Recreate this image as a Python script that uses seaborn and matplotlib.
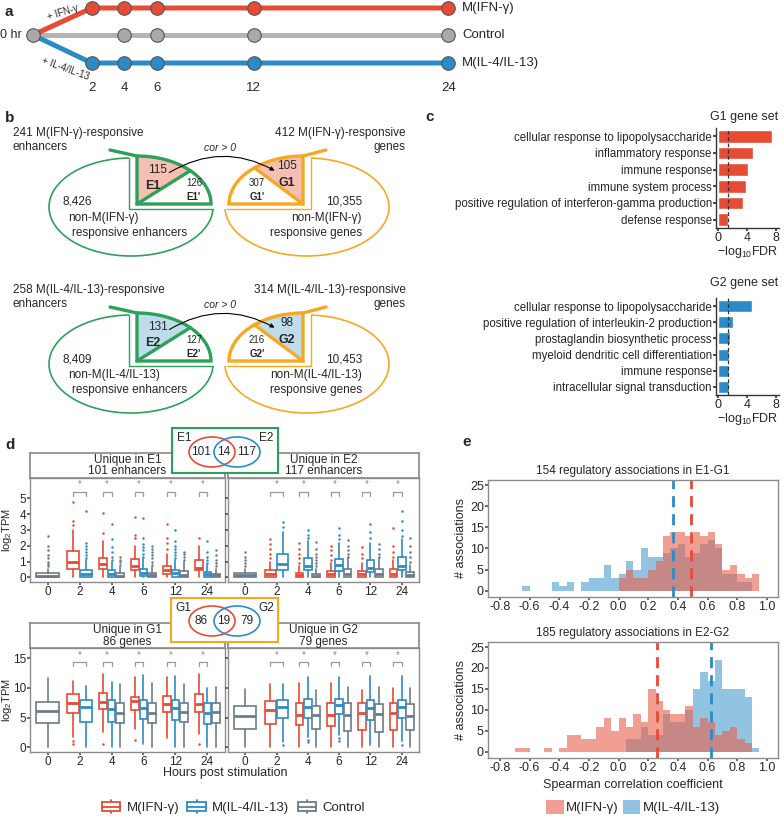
import numpy as np
import pandas as pd
import seaborn as sns
import matplotlib
matplotlib.use("Agg")
import matplotlib.pyplot as plt
from matplotlib.patches import Ellipse, Rectangle, Polygon, Patch, FancyArrowPatch
from matplotlib.lines import Line2D
from matplotlib.legend_handler import HandlerBase

sns.set_theme(style="white")
plt.rcParams["font.family"] = ["Liberation Sans", "DejaVu Sans"]
plt.rcParams["mathtext.fontset"] = "custom"
plt.rcParams["mathtext.rm"] = "Liberation Sans"
plt.rcParams["mathtext.it"] = "Liberation Sans:italic"

W, H = 784, 818

# ---------------- data ----------------
# a: time course
hours = [2, 4, 6, 12, 24]
control_hours = [4, 6, 12, 24]
a_groups = ["M(IFN-γ)", "Control", "M(IL-4/IL-13)"]
a_treat = ["+ IFN-γ", "+ IL-4/IL-13"]

# b: enhancer / gene sets
b_cond = ["M(IFN-γ)", "M(IL-4/IL-13)"]
enh_total = [241, 258]
gene_total = [412, 314]
enh_pos = [115, 131]
enh_neg = [126, 127]
gene_pos = [105, 98]
gene_neg = [307, 216]
enh_rest = ["8,426", "8,409"]
gene_rest = ["10,355", "10,453"]
enh_names = ["E1", "E2"]
gene_names = ["G1", "G2"]

# c: GO enrichment
g1_terms = ["cellular response to lipopolysaccharide", "inflammatory response",
            "immune response", "immune system process",
            "positive regulation of interferon-gamma production", "defense response"]
g1_fdr = [7.5, 4.9, 4.2, 3.8, 3.4, 1.4]
g2_terms = ["cellular response to lipopolysaccharide",
            "positive regulation of interleukin-2 production",
            "prostaglandin biosynthetic process", "myeloid dendritic cell differentiation",
            "immune response", "intracellular signal transduction"]
g2_fdr = [4.7, 2.1, 1.6, 1.55, 1.55, 1.55]
fdr_cut = 1.3

# d: expression boxplots, (whislo, q1, med, q3, whishi) per time 0,2,4,6,12,24
times = ["0", "2", "4", "6", "12", "24"]
venn_e = [101, 14, 117]
venn_g = [86, 19, 79]

e1_ifn = [None, (0, 0.55, 1.0, 1.65, 3.0), (0, 0.5, 0.87, 1.23, 2.3), (0, 0.49, 0.72, 1.13, 2.0),
          (0, 0.19, 0.45, 0.72, 1.5), (0, 0.45, 0.62, 1.08, 2.0)]
e1_il4 = [None, (0, 0.02, 0.2, 0.45, 1.1), (0, 0.02, 0.2, 0.45, 1.0), (0, 0.06, 0.3, 0.55, 1.2),
          (0, 0.02, 0.25, 0.45, 1.1), (0, 0.02, 0.2, 0.34, 0.8)]
e1_ctl = [(0, 0.02, 0.1, 0.25, 0.55), None, (0, 0, 0.1, 0.28, 0.65), (0, 0.02, 0.15, 0.28, 0.65),
          (0, 0.02, 0.15, 0.4, 0.95), (0, 0.01, 0.12, 0.23, 0.55)]
e1_ifn_out = [[], [3.3, 3.6, 4.8], [2.8, 4.1], [2.5, 2.7, 3.85], [1.8, 2.2, 2.5, 3.4], [2.5]]
e1_il4_out = [[], [1.2, 1.4, 1.6, 1.8, 2.0, 2.2, 4.2], [1.1, 1.3, 1.6, 1.9, 2.4, 3.35],
              [1.3, 1.5, 1.7, 1.9, 2.1, 2.5, 3.75], [1.2, 1.4, 1.6, 1.8, 2.0, 2.3, 3.0],
              [0.9, 1.1, 1.3, 1.6, 2.3]]
e1_ctl_out = [[0.7, 0.85, 1.0, 1.2, 1.4, 1.7, 2.0, 2.6], [], [0.8, 0.95, 1.1, 1.3],
              [0.8, 1.0, 1.2, 1.4, 1.6, 1.8, 2.0], [1.1, 1.3, 1.45, 1.6], [0.7, 0.9, 1.1, 1.4, 1.7]]

e2_ifn = [None, (0, 0.02, 0.22, 0.45, 1.0), (0, 0, 0.12, 0.3, 0.7), (0, 0.02, 0.2, 0.4, 0.9),
          (0, 0.02, 0.2, 0.4, 0.9), (0, 0.02, 0.22, 0.5, 1.1)]
e2_il4 = [None, (0, 0.45, 0.83, 1.5, 2.9), (0, 0.45, 0.7, 1.25, 2.3), (0, 0.4, 0.77, 1.13, 2.2),
          (0, 0.34, 0.6, 1.08, 2.2), (0, 0.45, 0.7, 1.3, 2.4)]
e2_ctl = [(0, 0.02, 0.12, 0.25, 0.55), None, (0, 0, 0.08, 0.23, 0.55), (0, 0.02, 0.22, 0.5, 1.2),
          (0, 0.02, 0.2, 0.53, 1.2), (0, 0.02, 0.15, 0.34, 0.8)]
e2_ifn_out = [[], [1.2, 1.5, 1.8, 2.1, 2.4], [0.9, 1.2, 1.5, 1.8, 2.2], [1.1, 1.4, 1.7, 2.0],
              [1.2, 1.5, 1.9], [1.3, 1.6, 2.0, 3.1]]
e2_il4_out = [[], [3.2, 3.5], [2.5, 2.7, 3.0], [2.4, 2.7, 3.1], [2.5, 2.9, 3.4], [2.6, 3.0, 3.6, 4.2]]
e2_ctl_out = [[0.7, 0.9, 1.1, 1.3, 1.6], [], [0.7, 0.9, 1.1, 1.3, 1.5, 1.8, 2.25],
              [1.3, 1.5, 1.7, 2.0, 2.35], [1.3, 1.5, 1.8, 2.1], [1.0, 1.3, 1.6, 2.0, 2.5]]

g1_ifn = [None, (1.8, 5.7, 7.5, 8.9, 11.2), (2.6, 6.4, 7.6, 9.2, 12.3), (3.0, 6.3, 7.8, 8.5, 11.8),
          (1.5, 6.0, 7.2, 8.6, 11.8), (2.3, 6.0, 7.3, 8.9, 12.3)]
g1_il4 = [None, (0, 4.3, 6.7, 7.9, 10.3), (0, 4.3, 6.4, 8.0, 11.0), (0.6, 4.7, 6.6, 7.9, 12.1),
          (0, 4.6, 6.6, 8.0, 12.0), (0, 3.9, 5.8, 7.5, 10.0)]
g1_ctl = [(0, 4.0, 6.1, 7.6, 11.7), None, (0, 4.1, 5.8, 7.4, 10.6), (0, 4.1, 5.8, 7.4, 10.8),
          (0, 4.2, 5.9, 7.4, 10.6), (0, 4.0, 6.0, 7.5, 10.1)]
g1_ifn_out = [[], [0.6, 1.0], [0.6], [1.3], [], [0.6]]
g1_il4_out = [[], [], [], [], [], []]
g1_ctl_out = [[], [], [], [], [], []]

g2_ifn = [None, (0, 3.9, 6.2, 7.7, 10.6), (0, 3.7, 5.5, 7.5, 10.8), (0, 3.5, 5.4, 7.5, 10.8),
          (0, 2.9, 5.7, 7.4, 9.7), (0, 2.9, 5.7, 7.4, 10.0)]
g2_il4 = [None, (0.8, 4.9, 6.8, 8.0, 10.7), (1.8, 5.0, 6.7, 8.2, 11.9), (2.0, 5.6, 7.1, 8.2, 11.8),
          (0.3, 4.6, 6.6, 8.0, 12.0), (1.0, 4.9, 6.7, 8.0, 12.0)]
g2_ctl = [(0, 3.1, 5.2, 6.9, 9.8), None, (0, 3.0, 5.5, 6.9, 9.7), (0, 2.8, 5.5, 7.4, 10.2),
          (0, 2.6, 5.6, 7.3, 10.1), (0, 2.9, 5.3, 7.3, 10.0)]
g2_ifn_out = [[], [], [], [], [], []]
g2_il4_out = [[], [0.3], [0.8, 1.3], [1.0, 1.5], [], [0.3]]
g2_ctl_out = [[], [], [], [], [], []]

# e: Spearman correlation histograms (bin left edges, width 0.05)
corr_left = [-0.70, -0.65, -0.60, -0.55, -0.50, -0.45, -0.40, -0.35, -0.30, -0.25, -0.20, -0.15,
             -0.10, -0.05, 0.00, 0.05, 0.10, 0.15, 0.20, 0.25, 0.30, 0.35, 0.40, 0.45, 0.50,
             0.55, 0.60, 0.65, 0.70, 0.75, 0.80, 0.85, 0.90, 0.95]
e1g1_ifn = [0, 0, 0, 0, 0, 0, 0, 0, 0, 0, 0, 0, 0, 0, 3, 5, 3, 3, 5, 7, 13, 14, 14, 13, 14,
            13, 14, 11, 5, 6, 4, 3, 4, 0]
e1g1_il4 = [0, 1, 0, 0, 0, 2, 1, 2, 0, 2, 3, 3, 6, 3, 4, 7, 5, 10, 8, 8, 9, 10, 11, 8, 9,
            11, 12, 10, 4, 4, 2, 2, 0, 0]
e2g2_ifn = [1, 1, 0, 0, 1, 0, 1, 4, 4, 3, 3, 6, 8, 5, 8, 6, 9, 7, 15, 12, 10, 9, 9, 11, 6,
            8, 7, 4, 5, 6, 3, 2, 0, 0]
e2g2_il4 = [0, 0, 0, 0, 0, 0, 0, 0, 0, 0, 0, 0, 0, 0, 0, 3, 3, 6, 4, 4, 9, 7, 7, 10, 15,
            19, 17, 22, 15, 15, 15, 13, 1, 0]
e1g1_median = [0.49, 0.37]   # IFN, IL-4
e2g2_median = [0.26, 0.62]

# ---------------- style ----------------
RED = "#E64B35"
BLUE = "#2C8BC6"
GRAY = "#6C7B8B"
GREEN = "#2FA05A"
ORANGE = "#F7A823"
HIST_RED = "#E8604A"
HIST_BLUE = "#4A9ECF"
FRAME = "#8C8C8C"

fig = plt.figure(figsize=(W / 100, H / 100), dpi=100)


def px_axes(x0, y0, x1, y1, **kw):
    return fig.add_axes([x0 / W, 1 - y1 / H, (x1 - x0) / W, (y1 - y0) / H], **kw)


# ---------------- a ----------------
ax_a = px_axes(0, 0, W, 100)
ax_a.set_xlim(-3.67, 44.72)
ax_a.set_ylim(100, 0)
ax_a.axis("off")
row_y = [8, 35, 63]
h0 = -1.64
ax_a.plot([h0, 24], [row_y[1], row_y[1]], color="#B4B4B4", lw=3.6, zorder=1)
ax_a.plot([h0, 2, 24], [row_y[1], row_y[0], row_y[0]], color=RED, lw=3.6, zorder=1)
ax_a.plot([h0, 2, 24], [row_y[1], row_y[2], row_y[2]], color=BLUE, lw=3.6, zorder=1)
ax_a.scatter(hours, [row_y[0]] * len(hours), s=95, color=RED, ec="#555555", lw=0.8, zorder=3)
ax_a.scatter(control_hours, [row_y[1]] * len(control_hours), s=95, color="#A9A9A9", ec="#555555", lw=0.8, zorder=3)
ax_a.scatter(hours, [row_y[2]] * len(hours), s=95, color=BLUE, ec="#555555", lw=0.8, zorder=3)
ax_a.scatter([h0], [row_y[1]], s=95, color="#A9A9A9", ec="#555555", lw=0.8, zorder=3)
for h in hours:
    ax_a.text(h, 88, str(h), ha="center", va="center", fontsize=9.5)
ax_a.text(-3.66, row_y[1], "0 hr", ha="left", va="center", fontsize=9)
for y, g in zip(row_y, a_groups):
    ax_a.text(24.85, y, g, ha="left", va="center", fontsize=9.5)
ax_a.text(0.2, 13, a_treat[0], ha="center", va="center", fontsize=7, rotation=17)
ax_a.text(0.35, 69, a_treat[1], ha="center", va="center", fontsize=7, rotation=-20)

# ---------------- overlay for b and labels ----------------
ov = px_axes(0, 0, W, H)
ov.set_xlim(0, W)
ov.set_ylim(H, 0)
ov.axis("off")
ov.set_zorder(10)
ov.patch.set_alpha(0)


def sector(cx, cy, rx, ry, a0, a1):
    t = np.radians(np.linspace(a0, a1, 40))
    pts = [(cx, cy)] + list(zip(cx + rx * np.cos(t), cy - ry * np.sin(t)))
    return pts


def draw_b_row(k, dy):
    fill = "#F5C0B3" if k == 0 else "#BFDCEB"
    # enhancers (green)
    ov.add_patch(Ellipse((131, 207 + dy), 164, 98, fc="none", ec=GREEN, lw=1.2))
    ov.add_patch(Rectangle((129, 148 + dy), 92, 61, fc="white", ec="none"))
    ov.plot([129, 129, 213], [158 + dy, 209 + dy, 209 + dy], color=GREEN, lw=1.0)
    cx, cy = 137, 204 + dy
    ov.add_patch(Polygon(sector(cx, cy, 74, 48, 44, 90), fc=fill, ec="none"))
    ov.add_patch(Polygon(sector(cx, cy, 74, 48, 0, 90), fc="none", ec=GREEN, lw=2.4, joinstyle="miter"))
    ov.plot([cx, cx + 74 * np.cos(np.radians(44))], [cy, cy - 48 * np.sin(np.radians(44))], color=GREEN, lw=2.4)
    ov.plot([110, cx], [150 + dy, 156 + dy], color=GREEN, lw=2.4)
    ov.text(158, 170 + dy, str(enh_pos[k]), ha="center", va="center", fontsize=8.5)
    ov.text(153, 186 + dy, enh_names[k], ha="center", va="center", fontsize=9, weight="bold")
    ov.text(194, 183 + dy, str(enh_neg[k]), ha="center", va="center", fontsize=7)
    ov.text(194, 197 + dy, enh_names[k] + "'", ha="center", va="center", fontsize=7, weight="bold")
    # genes (orange)
    ov.add_patch(Ellipse((307, 207 + dy), 164, 98, fc="none", ec=ORANGE, lw=1.2))
    ov.add_patch(Rectangle((222, 148 + dy), 89, 61, fc="white", ec="none"))
    ov.plot([311, 311, 227], [158 + dy, 209 + dy, 209 + dy], color=ORANGE, lw=1.0)
    cx, cy = 303, 204 + dy
    ov.add_patch(Polygon(sector(cx, cy, 74, 48, 90, 131), fc=fill, ec="none"))
    ov.add_patch(Polygon(sector(cx, cy, 74, 48, 90, 180), fc="none", ec=ORANGE, lw=2.4, joinstyle="miter"))
    ov.plot([cx, cx + 74 * np.cos(np.radians(131))], [cy, cy - 48 * np.sin(np.radians(131))], color=ORANGE, lw=2.4)
    ov.plot([cx, 326], [156 + dy, 150 + dy], color=ORANGE, lw=2.4)
    ov.text(287, 166 + dy, str(gene_pos[k]), ha="center", va="center", fontsize=8.5)
    ov.text(287, 183 + dy, gene_names[k], ha="center", va="center", fontsize=9, weight="bold")
    ov.text(257, 183 + dy, str(gene_neg[k]), ha="center", va="center", fontsize=7)
    ov.text(257, 197 + dy, gene_names[k] + "'", ha="center", va="center", fontsize=7, weight="bold")
    # titles
    ov.text(13, 140 + dy, f"{enh_total[k]} {b_cond[k]}-responsive\nenhancers", ha="left", va="center",
            fontsize=8.5, linespacing=1.15)
    ov.text(406, 140 + dy, f"{gene_total[k]} {b_cond[k]}-responsive\ngenes", ha="right", va="center",
            fontsize=8.5, linespacing=1.15, multialignment="right")
    ov.text(63, 202 + dy, enh_rest[k], ha="left", va="center", fontsize=8.5)
    ov.text(68, 218 + dy, f"non-{b_cond[k]}", ha="left", va="center", fontsize=8.5)
    ov.text(72, 233 + dy, "responsive enhancers", ha="left", va="center", fontsize=8.5)
    ov.text(362, 202 + dy, gene_rest[k], ha="right", va="center", fontsize=8.5)
    ov.text(362, 218 + dy, f"non-{b_cond[k]}", ha="right", va="center", fontsize=8.5)
    ov.text(362, 233 + dy, "responsive genes", ha="right", va="center", fontsize=8.5)
    ov.text(220, 148 + dy, "cor > 0", ha="center", va="center", fontsize=7.5, style="italic")
    ov.add_patch(FancyArrowPatch((167, 174 + dy), (277, 172 + dy), connectionstyle="arc3,rad=-0.3",
                                 arrowstyle="-|>", mutation_scale=6, lw=0.8, color="black"))


draw_b_row(0, 0)
draw_b_row(1, 157)

for lab, x, y in [("a", 5, 12), ("b", 5, 118), ("c", 425, 117), ("d", 5, 445), ("e", 462, 442)]:
    ov.text(x, y, lab, ha="left", va="center", fontsize=11, weight="bold")

# ---------------- c ----------------
def go_panel(box, terms, vals, color, title, title_y):
    ax = px_axes(*box)
    sns.barplot(x=vals, y=terms, orient="h", color=color, saturation=1, width=0.75, ax=ax)
    ax.axvline(fdr_cut, color="#333333", ls=(0, (3, 2)), lw=0.9)
    ax.set_xlim(-0.3, 8.45)
    ax.set_xticks([0, 4, 8])
    ax.set_ylabel("")
    ax.set_xlabel(r"$-\mathrm{log_{10}FDR}$", fontsize=9, labelpad=0)
    ax.tick_params(axis="y", labelsize=8.3, length=2, pad=1, left=True, color="#333333")
    ax.tick_params(axis="x", labelsize=9, length=2, pad=1, bottom=True, color="#333333")
    for s in ["top", "right"]:
        ax.spines[s].set_visible(False)
    for s in ["left", "bottom"]:
        ax.spines[s].set_color("#333333")
        ax.spines[s].set_linewidth(1.0)
    ov.text(778, title_y, title, ha="right", va="center", fontsize=9)
    return ax


go_panel((716, 128, 779, 228), g1_terms, g1_fdr, RED, "G1 gene set", 117)
go_panel((716, 298, 779, 395), g2_terms, g2_fdr, BLUE, "G2 gene set", 283)

# ---------------- d ----------------
conds = [(RED, "ifn"), (BLUE, "il4"), (GRAY, "ctl")]
panels_d = {
    "e1": ([e1_ifn, e1_il4, e1_ctl], [e1_ifn_out, e1_il4_out, e1_ctl_out]),
    "e2": ([e2_ifn, e2_il4, e2_ctl], [e2_ifn_out, e2_il4_out, e2_ctl_out]),
    "g1": ([g1_ifn, g1_il4, g1_ctl], [g1_ifn_out, g1_il4_out, g1_ctl_out]),
    "g2": ([g2_ifn, g2_il4, g2_ctl], [g2_ifn_out, g2_il4_out, g2_ctl_out]),
}


def box_panel(box, key, ylim, yticks, star_y, star_d, strip, show_y):
    ax = px_axes(*box)
    stats, outs = panels_d[key]
    for i in range(len(times)):
        present = [j for j in range(3) if stats[j][i] is not None]
        wb = 0.8 / len(present)
        pos_of = {}
        for k, j in enumerate(present):
            col = conds[j][0]
            pos = i - 0.4 + wb * (k + 0.5)
            pos_of[j] = pos
            lo, q1, med, q3, hi = stats[j][i]
            st = dict(whislo=lo, q1=q1, med=med, q3=q3, whishi=hi, fliers=outs[j][i])
            ax.bxp([st], positions=[pos], widths=wb * 0.9, showcaps=False, patch_artist=True,
                   manage_ticks=False,
                   boxprops=dict(facecolor="white", edgecolor=col, lw=1.2),
                   whiskerprops=dict(color=col, lw=1.2),
                   medianprops=dict(color=col, lw=2.0),
                   flierprops=dict(marker="o", ms=1.8, mfc=col, mec="none"))
        if 0 in pos_of and 1 in pos_of:
            x1, x2 = pos_of[0], pos_of[1]
            ax.plot([x1, x1, x2, x2], [star_y - star_d, star_y, star_y, star_y - star_d],
                    color="#999999", lw=0.9)
            ax.text((x1 + x2) / 2, star_y + star_d * 0.6, "*", ha="center", va="bottom",
                    fontsize=7, color="#888888")
    ax.set_xlim(-0.55, 5.55)
    ax.set_ylim(*ylim)
    ax.set_xticks(range(len(times)))
    ax.set_xticklabels(times)
    ax.set_yticks(yticks)
    if not show_y:
        ax.set_yticklabels([])
    ax.tick_params(labelsize=8.5, length=2, pad=1, color="#555555", left=True, bottom=True)
    for s in ax.spines.values():
        s.set_color(FRAME)
        s.set_linewidth(1.0)
    sx = px_axes(box[0], box[1] - 25, box[2], box[1])
    sx.set_xticks([])
    sx.set_yticks([])
    for s in sx.spines.values():
        s.set_color(FRAME)
    sx.text(0.5, 0.5, strip, ha="center", va="center", fontsize=8.5, linespacing=1.0,
            transform=sx.transAxes)
    return ax


box_panel((30, 478, 225, 582), "e1", (-0.3, 6.3), [0, 1, 2, 3, 4, 5], 5.43, 0.25,
          f"Unique in E1\n{venn_e[0]} enhancers", True)
box_panel((228, 478, 419, 582), "e2", (-0.3, 6.3), [0, 1, 2, 3, 4, 5], 5.43, 0.25,
          f"Unique in E2\n{venn_e[2]} enhancers", False)
box_panel((30, 648, 225, 752), "g1", (-0.8, 16.7), [0, 5, 10, 15], 14.3, 0.7,
          f"Unique in G1\n{venn_g[0]} genes", True)
box_panel((228, 648, 419, 752), "g2", (-0.8, 16.7), [0, 5, 10, 15], 14.3, 0.7,
          f"Unique in G2\n{venn_g[2]} genes", False)

ov.text(7, 530, r"$\mathrm{log_2TPM}$", rotation=90, ha="center", va="center", fontsize=8)
ov.text(7, 700, r"$\mathrm{log_2TPM}$", rotation=90, ha="center", va="center", fontsize=8)
ov.text(225, 773, "Hours post stimulation", ha="center", va="center", fontsize=9)


def venn_box(x0, y0, x1, y1, ec, names, nums, cy):
    ov.add_patch(Rectangle((x0, y0), x1 - x0, y1 - y0, fc="white", ec=ec, lw=1.5))
    ov.add_patch(Ellipse((212, cy), 46, 30, fc="none", ec=RED, lw=1.2))
    ov.add_patch(Ellipse((237, cy), 46, 30, fc="none", ec=BLUE, lw=1.2))
    ov.text(x0 + 12, y0 + 10, names[0], ha="center", va="center", fontsize=8.5)
    ov.text(x1 - 12, y0 + 10, names[1], ha="center", va="center", fontsize=8.5)
    for x, n in zip([201, 224, 247], nums):
        ov.text(x, cy, str(n), ha="center", va="center", fontsize=8.5)


venn_box(172, 428, 278, 473, GREEN, enh_names, venn_e, 452)
venn_box(171, 598, 278, 642, ORANGE, gene_names, venn_g, 621)


class BoxGlyph(HandlerBase):
    def create_artists(self, legend, orig, xd, yd, w, h, fs, trans):
        c = orig.get_edgecolor()
        x0, bw = xd + 0.12 * w, 0.76 * w
        wk = Line2D([xd + 0.5 * w] * 2, [yd - 0.25 * h, yd + 1.25 * h], color=c, lw=1.3, transform=trans)
        r = Rectangle((x0, yd + 0.05 * h), bw, 0.9 * h, fc="white", ec=c, lw=1.3, transform=trans)
        m = Line2D([x0, x0 + bw], [yd + 0.5 * h] * 2, color=c, lw=1.3, transform=trans)
        return [wk, r, m]


d_handles = [Patch(fc="white", ec=c) for c in [RED, BLUE, GRAY]]
fig.legend(d_handles, ["M(IFN-γ)", "M(IL-4/IL-13)", "Control"], handler_map={Patch: BoxGlyph()},
           loc="center", bbox_to_anchor=(232 / W, 1 - 808 / H), ncol=3, frameon=False, fontsize=9.5,
           handlelength=1.8, handletextpad=0.3, columnspacing=0.4)

# ---------------- e ----------------
corr_edges = corr_left + [1.0]


def hist_panel(box, ifn, il4, med, title):
    ax = px_axes(*box)
    df = pd.DataFrame({
        "r": [x + 0.025 for x in corr_left] * 2,
        "n": ifn + il4,
        "grp": ["M(IFN-γ)"] * len(corr_left) + ["M(IL-4/IL-13)"] * len(corr_left),
    })
    sns.histplot(data=df, x="r", weights="n", hue="grp", bins=corr_edges, multiple="layer",
                 hue_order=["M(IFN-γ)", "M(IL-4/IL-13)"],
                 palette={"M(IFN-γ)": HIST_RED, "M(IL-4/IL-13)": HIST_BLUE},
                 alpha=0.6, linewidth=0, legend=False, ax=ax)
    ax.axvline(med[0], color=RED, ls=(0, (4, 2.5)), lw=2.0)
    ax.axvline(med[1], color=BLUE, ls=(0, (4, 2.5)), lw=2.0)
    ax.set_xlim(-0.88, 1.075)
    ax.set_ylim(-1.5, 26.2)
    ax.set_xticks([-0.8, -0.6, -0.4, -0.2, 0.0, 0.2, 0.4, 0.6, 0.8, 1.0])
    ax.set_xticklabels([f"{v:.1f}" for v in [-0.8, -0.6, -0.4, -0.2, 0.0, 0.2, 0.4, 0.6, 0.8, 1.0]])
    ax.set_yticks([0, 5, 10, 15, 20, 25])
    ax.set_xlabel("")
    ax.set_ylabel("# associations", fontsize=9, labelpad=2)
    ax.set_title(title, fontsize=8.5, pad=4)
    ax.tick_params(labelsize=9, length=2, pad=1, color="#555555", left=True, bottom=True)
    for s in ax.spines.values():
        s.set_color(FRAME)
        s.set_linewidth(1.0)
    return ax


hist_panel((488, 480, 778, 597), e1g1_ifn, e1g1_il4, e1g1_median,
           f"{sum(e1g1_ifn)} regulatory associations in E1-G1")
hist_panel((488, 642, 778, 758), e2g2_ifn, e2g2_il4, e2g2_median,
           f"{sum(e2g2_il4)} regulatory associations in E2-G2")
ov.text(633, 785, "Spearman correlation coefficient", ha="center", va="center", fontsize=9)

e_handles = [Patch(fc=HIST_RED, alpha=0.6, ec="none"), Patch(fc=HIST_BLUE, alpha=0.6, ec="none")]
fig.legend(e_handles, ["M(IFN-γ)", "M(IL-4/IL-13)"], loc="center",
           bbox_to_anchor=(633 / W, 1 - 807 / H), ncol=2, frameon=False, fontsize=9.5,
           handlelength=1.3, handleheight=1.3, handletextpad=0.2, columnspacing=0.3)

fig.savefig("out.png", dpi=100)
